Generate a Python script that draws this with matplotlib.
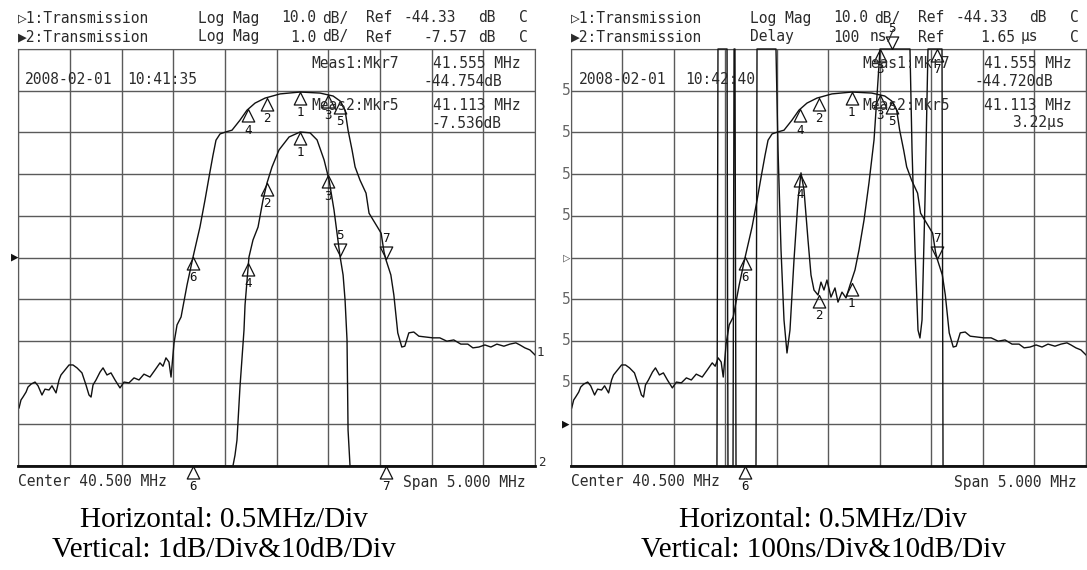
import matplotlib.pyplot as plt
import numpy as np

# Figure settings
W_PX, H_PX = 1087, 570
FIG_DPI = 100
MONO = ["DejaVu Sans Mono", "DejaVu Sans"]
SERIF = "Liberation Serif"
INK = "#111111"
GRID = "#5a5a5a"
TXT = "#2b2b2b"
SCREEN_FS = 10.5

# Sweep: center 40.500 MHz, span 5.000 MHz
F_START, F_STOP = 38.0, 43.0

# Trace 1: Log Mag, 10 dB/div, ref -44.33 dB on centre line
T1_FREQ = [38.007, 38.026, 38.045, 38.075, 38.094, 38.123, 38.162, 38.191, 38.229, 38.258,
           38.297, 38.326, 38.365, 38.394, 38.413, 38.452, 38.491, 38.529, 38.568, 38.616,
           38.655, 38.684, 38.704, 38.723, 38.752, 38.791, 38.820, 38.858, 38.897, 38.936,
           38.984, 39.023, 39.071, 39.120, 39.168, 39.216, 39.274, 39.323, 39.371, 39.400,
           39.429, 39.458, 39.478, 39.507, 39.536, 39.575, 39.633, 39.691, 39.758, 39.807,
           39.846, 39.884, 39.913, 39.952, 40.010, 40.068, 40.145, 40.213, 40.291, 40.388,
           40.533, 40.727, 40.920, 41.046, 41.114, 41.162, 41.191, 41.230, 41.259, 41.307,
           41.365, 41.394, 41.433, 41.482, 41.511, 41.539, 41.558, 41.605, 41.634, 41.672,
           41.711, 41.740, 41.779, 41.827, 41.876, 41.943, 42.011, 42.079, 42.147, 42.214,
           42.282, 42.350, 42.399, 42.457, 42.515, 42.573, 42.631, 42.699, 42.757, 42.815,
           42.854, 42.902, 42.951, 43.000]
T1_DB = [-80.4, -78.5, -77.8, -76.6, -75.4, -74.7, -74.2, -75.1, -77.3, -75.9,
         -76.1, -75.1, -76.8, -73.7, -72.5, -71.3, -70.1, -70.1, -70.8, -72.0,
         -74.9, -77.3, -77.8, -74.9, -73.7, -71.8, -70.8, -72.5, -72.0, -73.7,
         -75.6, -74.2, -74.4, -73.2, -73.7, -72.3, -73.0, -71.3, -69.6, -70.4,
         -68.4, -69.4, -73.0, -64.8, -60.5, -58.6, -50.9, -44.2, -37.0, -30.5,
         -25.0, -19.8, -16.2, -14.7, -14.2, -13.8, -11.4, -9.0, -7.3, -6.1,
         -5.1, -4.65, -4.9, -5.6, -6.8, -9.0, -13.8, -18.6, -22.6, -25.8,
         -28.9, -33.7, -35.3, -37.3, -38.5, -43.0, -44.9, -48.5, -53.3, -62.4,
         -65.8, -65.6, -62.4, -62.2, -63.2, -63.4, -63.6, -63.6, -64.4, -64.1,
         -65.1, -65.1, -66.0, -65.8, -65.3, -65.8, -65.1, -65.6, -65.1, -64.8,
         -65.3, -66.0, -66.5, -67.7]

# Trace 2 (left screen): Log Mag, 1 dB/div, ref -7.57 dB on centre line
T2_FREQ = [38.000, 40.077, 40.097, 40.116, 40.145, 40.184, 40.194, 40.232, 40.271, 40.320,
           40.368, 40.407, 40.455, 40.523, 40.620, 40.727, 40.823, 40.891, 40.959, 41.007,
           41.055, 41.113, 41.143, 41.162, 41.181, 41.191, 41.210, 43.000]
T2_DB = [-13.0, -12.57, -12.31, -11.95, -10.68, -9.31, -8.71, -7.56, -7.15, -6.84,
         -6.19, -5.78, -5.40, -4.99, -4.68, -4.56, -4.58, -4.75, -5.23, -5.71,
         -6.43, -7.536, -7.99, -8.59, -9.55, -11.71, -12.57, -13.0]

# Trace 2 (right screen): Delay, 100 ns/div, ref 1.65 us one division above bottom
DLY_FREQ = [38.000, 39.417, 39.427, 39.515, 39.524, 39.573, 39.583, 39.592, 39.602, 39.796,
            39.806, 39.990, 40.010, 40.039, 40.068, 40.097, 40.126, 40.165, 40.204, 40.233,
            40.262, 40.301, 40.330, 40.359, 40.398, 40.427, 40.456, 40.485, 40.524, 40.563,
            40.592, 40.631, 40.670, 40.709, 40.757, 40.796, 40.845, 40.893, 40.942, 40.981,
            41.000, 41.291, 41.311, 41.340, 41.369, 41.388, 41.408, 41.437, 41.456, 41.466,
            41.602, 41.612, 43.000]
DLY_US = [1.0, 1.0, 3.0, 3.0, 1.0, 1.0, 3.0, 3.0, 1.0, 1.0,
          3.0, 3.0, 2.308, 2.068, 1.900, 1.821, 1.876, 2.044, 2.188, 2.253,
          2.212, 2.092, 2.008, 1.972, 1.960, 1.991, 1.972, 1.996, 1.955, 1.977,
          1.943, 1.967, 1.953, 1.984, 2.020, 2.068, 2.140, 2.229, 2.332, 2.476,
          3.0, 3.0, 2.308, 2.068, 1.876, 1.857, 1.900, 2.188, 2.428, 3.0,
          3.0, 1.0, 1.0]

# Markers 1..7 (shared stimulus)
MKR_NUM = [1, 2, 3, 4, 5, 6, 7]
MKR_FREQ = [40.725, 40.406, 40.996, 40.223, 41.113, 39.691, 41.555]
T1_MKR = [-4.65, -6.0, -5.3, -8.8, -6.8, -44.2, -44.754]
T1_MKR_DOWN = [7]
T2_MKR = [-4.56, -5.78, -5.6, -7.7, -7.536, -13.0, -13.0]
T2_MKR_DOWN = [5]
DLY_MKR = [1.99, 1.96, 3.0, 2.25, 3.22, 1.0, 3.0]
DLY_MKR_DOWN = [5]

T1_LIM = (-44.33 - 50, -44.33 + 50)
T2_LIM = (-7.57 - 5, -7.57 + 5)
DLY_LIM = (1.65 - 0.1, 1.65 + 0.9)

UP_TRI = [(0, 0), (-0.5, -1), (0.5, -1), (0, 0)]
DOWN_TRI = [(0, 0), (-0.5, 1), (0.5, 1), (0, 0)]


def put(fig, x, y, s, **kw):
    """Place text using screenshot pixel coordinates."""
    opts = dict(family=MONO, fontsize=SCREEN_FS, color=TXT, va="center", ha="left")
    opts.update(kw)
    fig.text(x / W_PX, 1 - y / H_PX, s, **opts)


def make_screen(fig, x0, x1):
    ax = fig.add_axes([x0 / W_PX, 1 - 466 / H_PX, (x1 - x0) / W_PX, (466 - 49) / H_PX])
    ax.set_xlim(F_START, F_STOP)
    ax.set_ylim(*T1_LIM)
    ax.set_xticks(np.linspace(F_START, F_STOP, 11))
    ax.set_yticks(np.linspace(T1_LIM[0], T1_LIM[1], 11))
    ax.grid(True, color=GRID, lw=1.0)
    ax.tick_params(length=0, labelbottom=False, labelleft=False)
    for side in ["left", "right", "top"]:
        ax.spines[side].set_color(GRID)
    ax.spines["bottom"].set_color(INK)
    ax.spines["bottom"].set_linewidth(2.0)
    ax.set_facecolor("white")
    return ax


def draw_trace(ax, freq, vals, lim):
    ax.plot(freq, np.clip(vals, *lim), color=INK, lw=1.0, clip_on=False)


def draw_markers(ax, vals, lim, down):
    for n, f, v in zip(MKR_NUM, MKR_FREQ, vals):
        v = min(max(v, lim[0]), lim[1])
        is_down = n in down
        ax.plot(f, v, marker=DOWN_TRI if is_down else UP_TRI, ms=18, mfc="none",
                mec=INK, mew=0.9, clip_on=False)
        ax.annotate(str(n), (f, v), xytext=(0, 15 if is_down else -15),
                    textcoords="offset points", ha="center", va="center",
                    family=MONO, fontsize=9, color=INK, annotation_clip=False)


def main():
    fig = plt.figure(figsize=(W_PX / FIG_DPI, H_PX / FIG_DPI), dpi=FIG_DPI)

    ## LEFT SCREEN: two Log Mag traces
    axl = make_screen(fig, 18.3, 535)
    draw_trace(axl, T1_FREQ, T1_DB, T1_LIM)
    draw_markers(axl, T1_MKR, T1_LIM, T1_MKR_DOWN)
    axl2 = axl.twinx()
    axl2.set_ylim(*T2_LIM)
    axl2.set_axis_off()
    draw_trace(axl2, T2_FREQ, T2_DB, T2_LIM)
    draw_markers(axl2, T2_MKR, T2_LIM, T2_MKR_DOWN)

    ## RIGHT SCREEN: Log Mag + Delay
    axr = make_screen(fig, 571, 1086)
    draw_trace(axr, T1_FREQ, T1_DB, T1_LIM)
    draw_markers(axr, T1_MKR, T1_LIM, T1_MKR_DOWN)
    axr2 = axr.twinx()
    axr2.set_ylim(*DLY_LIM)
    axr2.set_axis_off()
    draw_trace(axr2, DLY_FREQ, DLY_US, DLY_LIM)
    draw_markers(axr2, DLY_MKR, DLY_LIM, DLY_MKR_DOWN)

    ## SCREEN ANNOTATIONS
    def rx(x):
        return 571 + 0.9967 * (x - 18.3)

    hdr1 = [("\u25b71:Transmission", 18), ("Log Mag", 198), ("10.0", 281), ("dB/", 322),
            ("Ref", 366), ("-44.33", 404), ("dB", 478), ("C", 519)]
    hdr2_l = [("\u25b62:Transmission", 18), ("Log Mag", 198), ("1.0", 290), ("dB/", 322),
              ("Ref", 366), ("-7.57", 423), ("dB", 478), ("C", 519)]
    hdr2_r = [("\u25b62:Transmission", 18), ("Delay", 198), ("100", 281), ("ns/", 318),
              ("Ref", 366), ("1.65", 429), ("\u00b5s", 469), ("C", 519)]
    for s, x in hdr1:
        put(fig, x, 18, s)
        put(fig, rx(x), 18, s)
    for s, x in hdr2_l:
        put(fig, x, 37, s)
    for s, x in hdr2_r:
        put(fig, rx(x), 37, s)

    put(fig, 25, 80, "2008-02-01")
    put(fig, 127, 80, "10:41:35")
    put(fig, 579, 80, "2008-02-01")
    put(fig, 685, 80, "10:42:40")

    put(fig, 311, 63, "Meas1:Mkr7")
    put(fig, 311, 105, "Meas2:Mkr5")
    put(fig, 433, 63, "41.555 MHz")
    put(fig, 423, 81, "-44.754dB")
    put(fig, 433, 105, "41.113 MHz")
    put(fig, 432, 123, "-7.536dB")
    put(fig, rx(311), 63, "Meas1:Mkr7")
    put(fig, rx(311), 105, "Meas2:Mkr5")
    put(fig, rx(433), 63, "41.555 MHz")
    put(fig, rx(423), 81, "-44.720dB")
    put(fig, rx(433), 105, "41.113 MHz")
    put(fig, 1012, 123, "3.22\u00b5s")

    put(fig, 18, 482, "Center 40.500 MHz")
    put(fig, 403, 482, "Span 5.000 MHz")
    put(fig, 571, 482, "Center 40.500 MHz")
    put(fig, rx(403), 482, "Span 5.000 MHz")

    # trace end labels and reference arrows
    put(fig, 537, 353, "1", fontsize=9)
    put(fig, 538, 462, "2", fontsize=9)
    put(fig, 15, 257, "\u25b6", ha="center", fontsize=9, color=INK)
    for y in [90.7, 132.4, 174.1, 215.8, 299.2, 340.9, 382.6]:
        put(fig, 571, y, "5", ha="right", color="#666666")
    put(fig, 567, 257.5, "\u25b7", ha="center", fontsize=9, color="#666666")
    put(fig, 566, 424.4, "\u25b6", ha="center", fontsize=9, color=INK)

    ## CAPTIONS
    for cx, lines in [(224, ["Horizontal: 0.5MHz/Div", "Vertical: 1dB/Div&10dB/Div"]),
                      (823, ["Horizontal: 0.5MHz/Div", "Vertical: 100ns/Div&10dB/Div"])]:
        for y, s in zip([520, 550], lines):
            put(fig, cx, y, s, family=SERIF, fontsize=21, ha="center", color="black")

    fig.savefig("out.png", dpi=FIG_DPI)


if __name__ == "__main__":
    main()
